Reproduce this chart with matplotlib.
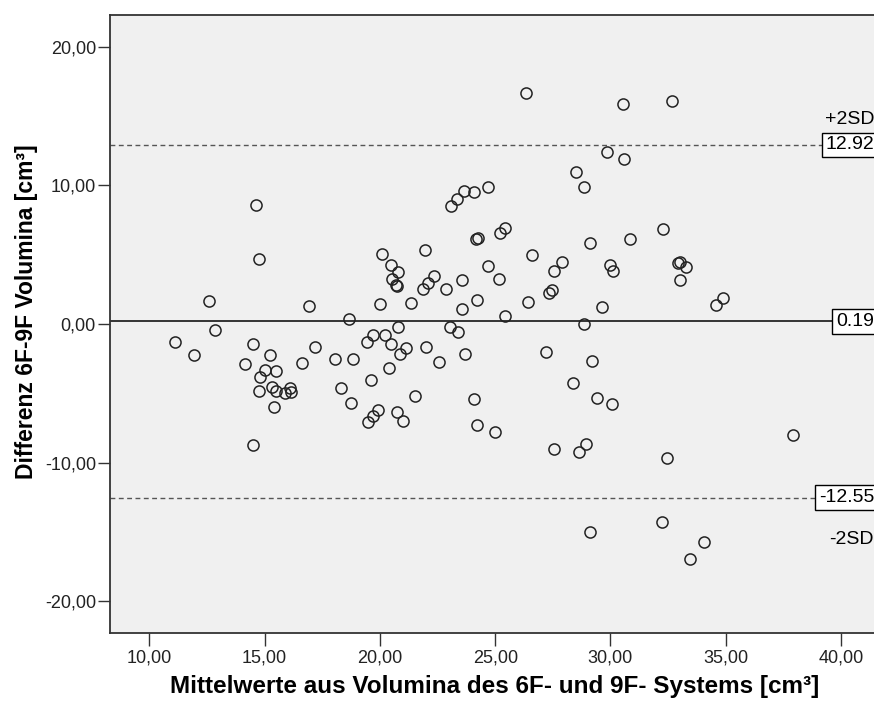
import matplotlib
matplotlib.use("Agg")
import matplotlib.pyplot as plt

plt.rcParams["font.family"] = ["Liberation Sans", "DejaVu Sans"]

# Mittelwerte (x) und Differenzen (y) aus dem Bland-Altman-Diagramm
mean_vals = [
    14.64, 14.77, 12.60, 16.93, 18.65, 20.10, 20.47, 20.79, 20.51, 20.70,
    20.76, 19.99, 21.36, 21.97, 21.85, 22.09, 22.35, 22.86, 23.07, 23.33,
    23.63, 24.09, 24.70, 24.18, 24.25, 25.22, 25.42, 26.60, 24.70, 23.54,
    25.17, 24.20, 23.57, 25.43, 26.41, 27.57, 27.91, 29.13, 30.86, 32.28,
    29.96, 30.13, 27.32, 27.47, 29.64, 28.84, 26.32, 30.54, 32.67, 29.83,
    30.60, 28.51, 28.84, 32.93, 33.03, 33.26, 33.03, 34.60, 34.89,
    23.02, 23.38, 20.80, 12.86, 11.12, 11.94, 14.50, 14.16, 15.25, 15.03,
    15.47, 14.81, 14.74, 15.32, 15.47, 15.90, 16.09, 16.16, 15.39, 14.48,
    16.63, 17.20, 18.04, 18.84, 18.29, 18.76, 19.45, 19.70, 20.20, 20.47,
    21.12, 20.86, 20.40, 19.60, 21.51, 19.93, 19.70, 19.50, 20.76, 21.00,
    21.99, 22.57, 23.71, 27.22, 29.19, 28.38, 29.42, 30.07, 24.10, 24.20,
    24.99, 27.57, 28.63, 28.94, 32.45, 32.25, 29.13, 37.91, 34.04, 33.43,
]
diff_vals = [
    8.56, 4.71, 1.68, 1.30, 0.33, 5.05, 4.26, 3.73, 3.22, 2.81,
    2.75, 1.42, 1.54, 5.34, 2.55, 2.94, 3.49, 2.50, 8.54, 9.02,
    9.60, 9.55, 9.91, 6.12, 6.22, 6.54, 6.90, 4.96, 4.18, 3.17,
    3.22, 1.71, 1.11, 0.58, 1.59, 3.85, 4.50, 5.87, 6.11, 6.88,
    4.26, 3.85, 2.26, 2.43, 1.20, 0.00, 16.65, 15.90, 16.11, 12.41,
    11.93, 10.97, 9.86, 4.38, 4.50, 4.09, 3.17, 1.37, 1.85,
    -0.19, -0.55, -0.19, -0.43, -1.28, -2.24, -1.47, -2.91, -2.26, -3.32,
    -3.39, -3.80, -4.83, -4.52, -4.83, -4.96, -4.60, -4.93, -5.96, -8.75,
    -2.79, -1.64, -2.50, -2.53, -4.64, -5.72, -1.30, -0.79, -0.82, -1.44,
    -1.75, -2.19, -3.15, -4.06, -5.22, -6.23, -6.64, -7.05, -6.37, -7.00,
    -1.64, -2.76, -2.19, -2.00, -2.69, -4.28, -5.31, -5.77, -5.39, -7.26,
    -7.77, -9.02, -9.26, -8.64, -9.64, -14.29, -15.01, -8.03, -15.70, -16.98,
]

mean_diff = 0.19
upper_loa = 12.92
lower_loa = -12.55

x_ticks = [10, 15, 20, 25, 30, 35, 40]
x_tick_labels = ["10,00", "15,00", "20,00", "25,00", "30,00", "35,00", "40,00"]
y_ticks = [-20, -10, 0, 10, 20]
y_tick_labels = ["-20,00", "-10,00", "0,00", "10,00", "20,00"]

fig = plt.figure(figsize=(8.74, 7.02), dpi=100)
ax = fig.add_axes([0.1264, 0.0983, 0.878, 0.881])
ax.set_facecolor("#f0f0f0")

ax.plot(mean_vals, diff_vals, linestyle="none", marker="o", markersize=8,
        markerfacecolor="none", markeredgecolor="#222222", markeredgewidth=1.1,
        zorder=3)

ax.axhline(mean_diff, color="black", linewidth=1.1, zorder=2)
ax.axhline(upper_loa, color="#555555", linewidth=1.0, linestyle=(0, (3.5, 2.5)), zorder=2)
ax.axhline(lower_loa, color="#555555", linewidth=1.0, linestyle=(0, (3.5, 2.5)), zorder=2)

box = dict(boxstyle="square,pad=0.2", facecolor="white", edgecolor="black", linewidth=1.0)
ax.text(39.35, upper_loa, "12.92", ha="left", va="center", fontsize=14, bbox=box,
        zorder=4, clip_on=False)
ax.text(39.8, mean_diff, "0.19", ha="left", va="center", fontsize=14, bbox=box,
        zorder=4, clip_on=False)
ax.text(39.05, lower_loa, "-12.55", ha="left", va="center", fontsize=14, bbox=box,
        zorder=4, clip_on=False)
ax.text(39.3, 14.75, "+2SD", ha="left", va="center", fontsize=14, zorder=4)
ax.text(39.5, -15.55, "-2SD", ha="left", va="center", fontsize=14, zorder=4)

ax.set_xlim(8.31, 41.6)
ax.set_ylim(-22.3, 22.33)
ax.set_xticks(x_ticks)
ax.set_xticklabels(x_tick_labels)
ax.set_yticks(y_ticks)
ax.set_yticklabels(y_tick_labels)
ax.tick_params(axis="both", direction="out", length=9, width=1.0, labelsize=13,
               color="#333333", labelcolor="#222222")
ax.tick_params(axis="y", pad=1.5)
ax.tick_params(axis="x", pad=3)

for side in ["left", "bottom", "top", "right"]:
    ax.spines[side].set_color("#333333")
    ax.spines[side].set_linewidth(1.3)

ax.set_xlabel("Mittelwerte aus Volumina des 6F- und 9F- Systems [cm³]",
              fontsize=17.5, fontweight="bold", labelpad=6)
ax.set_ylabel("Differenz 6F-9F Volumina [cm³]",
              fontsize=16.5, fontweight="bold")
ax.yaxis.set_label_coords(-0.095, 0.52)

fig.savefig("out.png", dpi=100)
